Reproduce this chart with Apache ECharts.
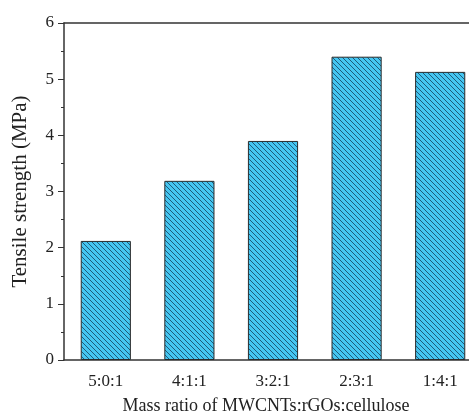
<!DOCTYPE html>
<html>
<head>
<meta charset="utf-8">
<script src="https://cdn.jsdelivr.net/npm/echarts@6/dist/echarts.min.js"></script>
<style>
	html, body { margin: 0; padding: 0; background: #fff; }
	#chart { width: 469px; height: 416px; }
</style>
</head>
<body>
<div id="chart"></div>
<script>
var ratioLabels = ['5:0:1', '4:1:1', '3:2:1', '2:3:1', '1:4:1'];
var strengthValues = [2.12, 3.19, 3.9, 5.4, 5.13];
var yTicks = [0, 1, 2, 3, 4, 5, 6];

// hatch pattern: diagonal lines, top-left to bottom-right
function makeHatch() {
	var c = document.createElement('canvas');
	var s = 5;
	c.width = s;
	c.height = s;
	var ctx = c.getContext('2d');
	ctx.fillStyle = '#45c6f1';
	ctx.fillRect(0, 0, s, s);
	ctx.strokeStyle = 'rgba(25,70,100,0.85)';
	ctx.lineWidth = 1;
	ctx.beginPath();
	ctx.moveTo(-1, -1); ctx.lineTo(s + 1, s + 1);
	ctx.moveTo(-1, s - 1); ctx.lineTo(1, s + 1);
	ctx.moveTo(s - 1, -1); ctx.lineTo(s + 1, 1);
	ctx.stroke();
	return c;
}

var chart = echarts.init(document.getElementById('chart'));
var fontFam = '"Liberation Serif", "Times New Roman", serif';
var lineCol = '#333';

var option = {
	animation: false,
	grid: {
		left: 64,
		width: 418,
		top: 23,
		bottom: 56,
		containLabel: false,
		outerBoundsMode: 'none'
	},
	xAxis: [{
		type: 'category',
		data: ratioLabels,
		position: 'bottom',
		name: 'Mass ratio of MWCNTs:rGOs:cellulose',
		nameLocation: 'middle',
		nameGap: 37,
		nameTextStyle: { fontFamily: fontFam, fontSize: 18, color: '#222', padding: [0, 14, 0, 0] },
		axisLine: { lineStyle: { color: lineCol, width: 1.5 } },
		axisTick: { alignWithLabel: true, length: 5, lineStyle: { color: lineCol } },
		axisLabel: { fontFamily: fontFam, fontSize: 17, color: '#222', margin: 13 }
	}, {
		type: 'category',
		data: ratioLabels,
		position: 'bottom',
		axisLine: { show: false },
		axisTick: { length: 3, lineStyle: { color: lineCol } },
		axisLabel: { show: false }
	}, {
		type: 'category',
		data: ratioLabels,
		position: 'top',
		axisLine: { lineStyle: { color: lineCol, width: 1.5 } },
		axisTick: { show: false },
		axisLabel: { show: false }
	}],
	yAxis: {
		type: 'value',
		min: yTicks[0],
		max: yTicks[yTicks.length - 1],
		interval: 1,
		name: 'Tensile strength (MPa)',
		nameLocation: 'middle',
		nameGap: 33,
		nameTextStyle: { fontFamily: fontFam, fontSize: 21, color: '#222' },
		axisLine: { show: true, lineStyle: { color: lineCol, width: 1.5 } },
		axisTick: { show: true, length: 6, lineStyle: { color: lineCol } },
		minorTick: { show: true, splitNumber: 2, length: 3, lineStyle: { color: lineCol } },
		splitLine: { show: false },
		axisLabel: { fontFamily: fontFam, fontSize: 17, color: '#222', margin: 10 }
	},
	series: [{
		type: 'bar',
		data: strengthValues,
		barWidth: '60%',
		itemStyle: {
			color: { image: makeHatch(), repeat: 'repeat' },
			borderColor: '#2b2b2b',
			borderWidth: 1
		}
	}]
};

chart.setOption(option);
</script>
</body>
</html>
